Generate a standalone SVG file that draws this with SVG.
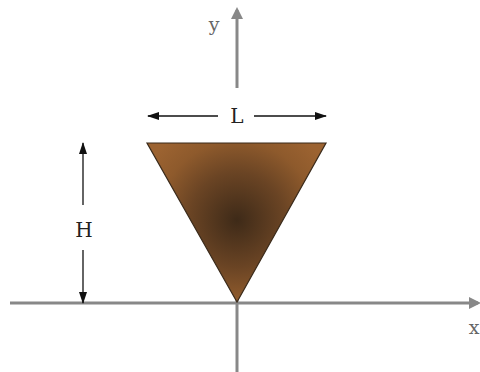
<svg xmlns="http://www.w3.org/2000/svg" width="480" height="372" viewBox="0 0 480 372">
<style>
.axis{stroke:#888;stroke-width:3;fill:none}
.dim{stroke:#111;stroke-width:1.3;fill:none}
.lbl{font-family:"DejaVu Serif","Liberation Serif",serif;font-size:20px;fill:#222;text-anchor:middle}
.albl{font-family:"DejaVu Serif","Liberation Serif",serif;font-size:19px;fill:#666;text-anchor:middle}
</style>
<defs>
<marker id="ga" markerWidth="12" markerHeight="12" refX="9" refY="6" orient="auto" markerUnits="userSpaceOnUse"><path d="M0,0 L12,6 L0,12 Z" fill="#888"/></marker>
<marker id="da" markerWidth="12" markerHeight="8" refX="11" refY="4" orient="auto" markerUnits="userSpaceOnUse"><path d="M0,0 L12,4 L0,8 Z" fill="#111"/></marker>
<radialGradient id="tg" cx="237" cy="220" r="105" gradientUnits="userSpaceOnUse">
<stop offset="0" stop-color="#3e2a18"/>
<stop offset="0.45" stop-color="#6a4424"/>
<stop offset="0.75" stop-color="#8e5a2c"/>
<stop offset="1" stop-color="#9c6331"/>
</radialGradient>
</defs>
<g id="axes">
<line class="axis" x1="10" y1="303" x2="478" y2="303" marker-end="url(#ga)"/>
<line class="axis" x1="237" y1="372" x2="237" y2="143"/>
<line class="axis" x1="237" y1="88" x2="237" y2="10" marker-end="url(#ga)"/>
<text class="albl" x="214" y="31">y</text>
<text class="albl" x="474" y="334">x</text>
</g>
<g id="triangle">
<polygon points="147,143 326,143 237,302" fill="url(#tg)" stroke="#3a2a1a" stroke-width="1.2"/>
</g>
<g id="connectors">
<line class="dim" x1="218" y1="116" x2="148" y2="116" marker-end="url(#da)"/>
<line class="dim" x1="254" y1="116" x2="326" y2="116" marker-end="url(#da)"/>
<line class="dim" x1="83" y1="205" x2="83" y2="143" marker-end="url(#da)"/>
<line class="dim" x1="83" y1="250" x2="83" y2="303" marker-end="url(#da)"/>
</g>
<g id="labels">
<text class="lbl" x="237" y="123">L</text>
<text class="lbl" x="84" y="237">H</text>
</g>
</svg>
